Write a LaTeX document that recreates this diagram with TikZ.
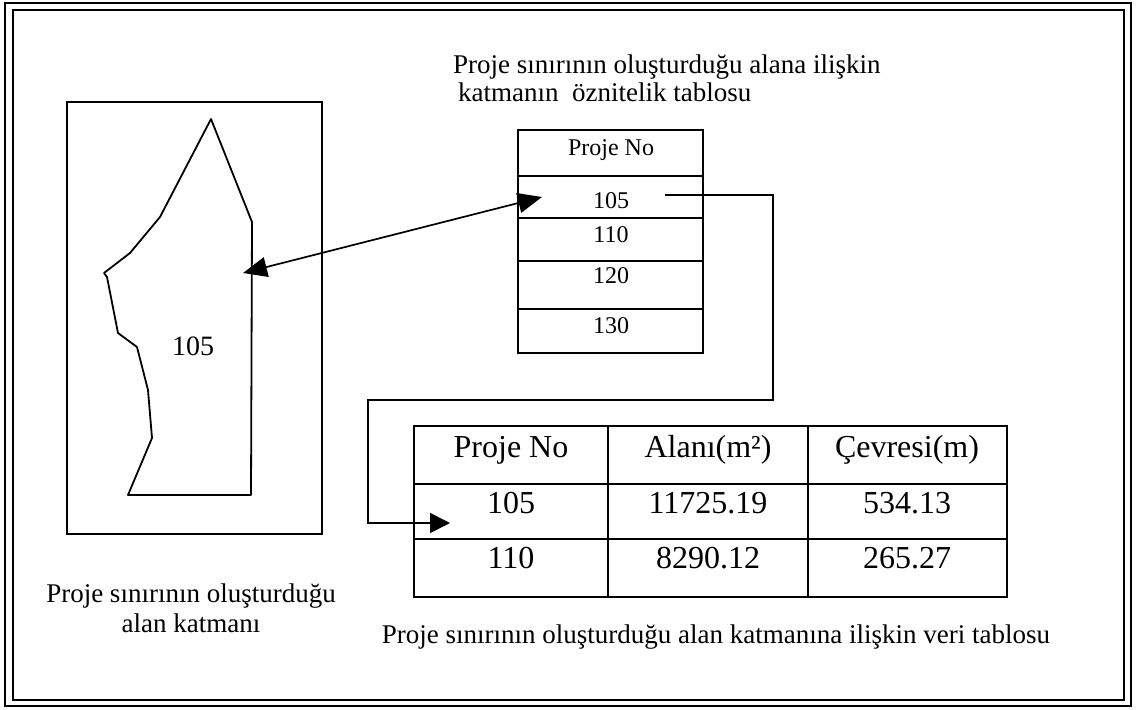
\documentclass[tikz,border=0pt]{standalone}
\usepackage{fontspec}
\setmainfont{Liberation Serif}
\usetikzlibrary{arrows.meta}
\tikzset{rule/.style={color=black,line width=1.2pt}}
\tikzset{boxline/.style={color=black,line width=2.8pt}}
\tikzset{link/.style={color=black,line width=1.7pt}}
\tikzset{tip/.style={-{Triangle[length=20pt,width=20pt]}}}
\tikzset{txt/.style={inner sep=0pt, anchor=base}}
\tikzset{captionfont/.style={txt, font=\fontsize{27}{31}\selectfont}}

\begin{document}
\begin{tikzpicture}[x=1pt,y=-1pt]
  \useasboundingbox (0,0) rectangle (1136,710);
  % double frame
  \draw[line width=2.8pt] (5,3) rectangle (1131,706);
  \draw[line width=1.8pt] (13,10) rectangle (1124,700);

  % layer map with the parcel
  \draw[line width=1.8pt] (67,102) rectangle (322,534);
  \draw[line width=1.8pt, line join=round] (211,119) -- (252,222) -- (251,495) -- (128,495)
    -- (152,438) -- (148,390) -- (137,347) -- (118,333) -- (107,277) -- (104,273)
    -- (130,253) -- (160,217) -- cycle;
  \node[txt, font=\fontsize{28}{32}\selectfont] (parcel) at (193,355) {105};
  \node[captionfont] (mapcap1) at (191,602) {Proje sınırının oluşturduğu};
  \node[captionfont] (mapcap2) at (191,632) {alan katmanı};

  % attribute table of the layer
  \node[captionfont, anchor=base west] (attrcap1) at (453,73) {Proje sınırının oluşturduğu alana ilişkin};
  \node[captionfont, anchor=base west] (attrcap2) at (458,101) {katmanın\ \ öznitelik tablosu};
  \draw[boxline] (518,130) rectangle (703,353);
  \foreach \y in {176,218,261,309}
    \draw[rule] (518,\y) -- (703,\y);
  \foreach \t/\y [count=\i] in {Proje No/155, 105/208, 110/242, 120/283, 130/333}
    \node[txt, font=\fontsize{24}{28}\selectfont] (attr\i) at (611,\y) {\t};

  % parcel <-> row
  \coordinate (pin) at (243,273);
  \coordinate (rowhit) at (542,197);
  \draw[link, {Triangle[length=24pt,width=20pt]}-{Triangle[length=24pt,width=20pt]}] (pin) -- (rowhit);

  % row -> data table
  \coordinate (linkstart) at (665,195);
  \coordinate (linkend) at (450,523);
  \draw[link, tip] (linkstart) -| (773,400) -| (368,523) -- (linkend);

  % data table
  \draw[boxline] (414,426) rectangle (1007,597);
  \draw[rule] (414,484) -- (1007,484);
  \draw[rule] (414,539) -- (1007,539);
  \draw[rule] (608,426) -- (608,597);
  \draw[rule] (808,426) -- (808,597);
  \foreach \a/\b/\c/\y [count=\i] in {Proje No/Alanı(m²)/Çevresi(m)/457,
                                      105/11725.19/534.13/513,
                                      110/8290.12/265.27/568} {
    \node[txt, font=\fontsize{32}{36}\selectfont] (no\i) at (511,\y) {\a};
    \node[txt, font=\fontsize{32}{36}\selectfont] (area\i) at (708,\y) {\b};
    \node[txt, font=\fontsize{32}{36}\selectfont] (perim\i) at (907,\y) {\c};
  }
  \node[captionfont] (datacap) at (716,643) {Proje sınırının oluşturduğu alan katmanına ilişkin veri tablosu};
\end{tikzpicture}
\end{document}
